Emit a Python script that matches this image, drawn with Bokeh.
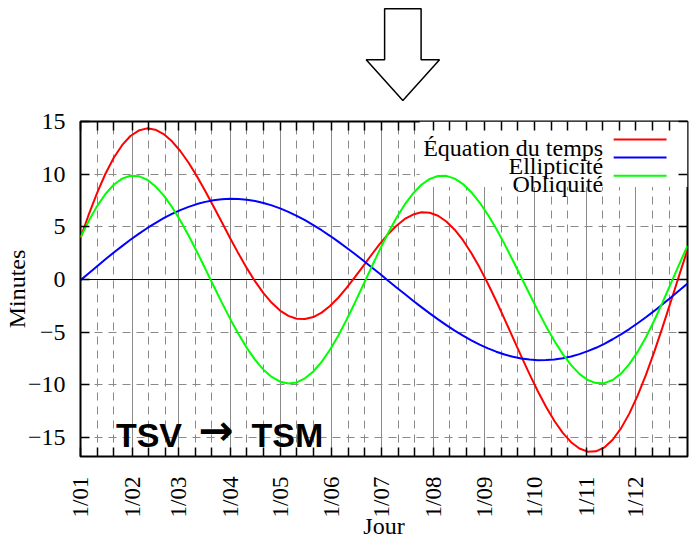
import math
from bokeh.plotting import figure
from bokeh.models import Range1d, FixedTicker, LinearAxis, Grid, Span
from bokeh.layouts import column
from bokeh.embed import file_html
from bokeh.resources import INLINE
from bokeh.core.properties import value

# ---------------- data ----------------
days = [0, 5, 10, 15, 20, 25, 30, 35, 40, 45, 50, 55, 60, 65, 70, 75, 80, 85, 90, 95,
        100, 105, 110, 115, 120, 125, 130, 135, 140, 145, 150, 155, 160, 165, 170, 175,
        180, 185, 190, 195, 200, 205, 210, 215, 220, 225, 230, 235, 240, 245, 250, 255,
        260, 265, 270, 275, 280, 285, 290, 295, 300, 305, 310, 315, 320, 325, 330, 335,
        340, 345, 350, 355, 360, 365]

equation = [3.93, 6.18, 8.23, 10.04, 11.56, 12.75, 13.62, 14.14, 14.35, 14.22, 13.81, 13.12,
            12.20, 11.08, 9.80, 8.41, 6.93, 5.43, 3.92, 2.46, 1.08, -0.18, -1.29, -2.21,
            -2.95, -3.45, -3.72, -3.75, -3.56, -3.14, -2.52, -1.73, -0.80, 0.22, 1.28, 2.35,
            3.38, 4.31, 5.11, 5.75, 6.17, 6.38, 6.34, 6.05, 5.51, 4.73, 3.73, 2.52,
            1.13, -0.40, -2.04, -3.76, -5.52, -7.27, -8.98, -10.61, -12.10, -13.43, -14.56, -15.44,
            -16.04, -16.34, -16.31, -15.94, -15.21, -14.13, -12.73, -11.02, -9.06, -6.87, -4.52, -2.08,
            0.39, 2.83]

ellipticite = [-0.07, 0.60, 1.26, 1.92, 2.56, 3.17, 3.77, 4.33, 4.87, 5.36, 5.82, 6.23,
               6.59, 6.90, 7.16, 7.37, 7.52, 7.62, 7.66, 7.64, 7.57, 7.45, 7.27, 7.04,
               6.75, 6.42, 6.05, 5.63, 5.17, 4.68, 4.15, 3.60, 3.02, 2.42, 1.80, 1.17,
               0.54, -0.11, -0.75, -1.38, -2.01, -2.62, -3.21, -3.78, -4.33, -4.85, -5.33, -5.77,
               -6.18, -6.54, -6.85, -7.12, -7.33, -7.49, -7.60, -7.66, -7.65, -7.59, -7.48, -7.31,
               -7.08, -6.80, -6.48, -6.10, -5.67, -5.20, -4.70, -4.15, -3.58, -2.98, -2.35, -1.71,
               -1.05, -0.38]

obliquite = [4.00, 5.58, 6.97, 8.12, 9.00, 9.58, 9.85, 9.81, 9.48, 8.86, 7.99, 6.89,
             5.61, 4.18, 2.64, 1.04, -0.59, -2.19, -3.74, -5.18, -6.49, -7.63, -8.56, -9.25,
             -9.70, -9.87, -9.77, -9.38, -8.73, -7.82, -6.67, -5.33, -3.82, -2.20, -0.52, 1.18,
             2.84, 4.42, 5.86, 7.13, 8.18, 9.00, 9.55, 9.83, 9.84, 9.58, 9.06, 8.29,
             7.31, 6.14, 4.81, 3.36, 1.81, 0.22, -1.38, -2.95, -4.45, -5.84, -7.08, -8.13,
             -8.96, -9.54, -9.83, -9.84, -9.54, -8.93, -8.03, -6.87, -5.48, -3.89, -2.17, -0.37,
             1.44, 3.21]

series_names = ["Équation du temps", "Ellipticité", "Obliquité"]
series_colors = ["#ff0000", "#0000ff", "#00ff00"]

month_days = [0, 31, 59, 90, 120, 151, 181, 212, 243, 273, 304, 334]
month_labels = ["1/01", "1/02", "1/03", "1/04", "1/05", "1/06",
                "1/07", "1/08", "1/09", "1/10", "1/11", "1/12"]
minor_days = [10, 20, 41, 51, 69, 79, 100, 110, 130, 140, 161, 171,
              191, 201, 222, 232, 253, 263, 283, 293, 314, 324, 344, 354]
y_ticks = [-15, -10, -5, 0, 5, 10, 15]
y_labels = ["\u221215", "\u221210", "\u22125", "0", "5", "10", "15"]

# ---------------- layout constants ----------------
SERIF = "Liberation Serif"
W = 692
TOP_H = 104
MAIN_H = 438
GRID_COLOR = "#8a8a8a"

# ---------------- top arrow ----------------
arrow = figure(width=W, height=TOP_H, x_range=Range1d(0, W), y_range=Range1d(TOP_H, 0),
               output_backend="svg", toolbar_location=None,
               x_axis_type=None, y_axis_type=None, min_border=0)
arrow.outline_line_color = None
arrow.background_fill_color = "white"
arrow.border_fill_color = "white"
arrow_x = [346.7, 388.3, 388.3, 409.3, 367.5, 325.7, 346.7]
arrow_y = [8.3, 8.3, 59.3, 59.3, 100, 59.3, 59.3]
arrow.patch(arrow_x, arrow_y, fill_color="white", line_color="black", line_width=1.5)

# ---------------- main chart ----------------
p = figure(width=W, height=MAIN_H, x_range=Range1d(0, 365), y_range=Range1d(-16.8, 15),
           output_backend="svg", toolbar_location=None,
           x_axis_type=None, y_axis_type=None,
           min_border_left=79, min_border_right=5, min_border_top=17, min_border_bottom=83)
p.outline_line_color = "black"
p.outline_line_width = 2
p.background_fill_color = "white"
p.border_fill_color = "white"


def style_axis(ax, tick_font="24px"):
    ax.axis_line_color = None
    ax.major_tick_in = 9
    ax.major_tick_out = 0
    ax.minor_tick_in = 9
    ax.minor_tick_out = 0
    ax.major_tick_line_color = "black"
    ax.minor_tick_line_color = "black"
    ax.major_tick_line_width = 1.5
    ax.minor_tick_line_width = 1.5
    ax.major_label_text_font = SERIF
    ax.major_label_text_font_size = tick_font
    ax.major_label_text_color = "black"
    ax.axis_label_text_font = SERIF
    ax.axis_label_text_font_size = "24px"
    ax.axis_label_text_font_style = "normal"
    ax.axis_label_text_color = "black"


# labelled axes
xb = LinearAxis(ticker=FixedTicker(ticks=month_days, minor_ticks=minor_days),
                major_label_overrides=dict(zip(month_days, month_labels)),
                major_label_orientation=math.pi / 2, major_label_standoff=20,
                axis_label="Jour", axis_label_standoff=-7)
style_axis(xb, "23px")
yl = LinearAxis(ticker=FixedTicker(ticks=y_ticks, minor_ticks=[]),
                major_label_overrides=dict(zip(y_ticks, y_labels)),
                major_label_standoff=15, axis_label="Minutes", axis_label_standoff=-5)
style_axis(yl)
# mirror axes: tick marks only (all as minor ticks, so no labels)
xt = LinearAxis(ticker=FixedTicker(ticks=[], minor_ticks=month_days + minor_days),
                major_label_standoff=0)
style_axis(xt)
yr = LinearAxis(ticker=FixedTicker(ticks=[], minor_ticks=y_ticks), major_label_standoff=0)
style_axis(yr)
p.add_layout(xb, "below")
p.add_layout(xt, "above")
p.add_layout(yl, "left")
p.add_layout(yr, "right")

# grid lines
p.add_layout(Grid(dimension=0, ticker=FixedTicker(ticks=month_days),
                  grid_line_color=GRID_COLOR, grid_line_width=1))
p.add_layout(Grid(dimension=0, ticker=FixedTicker(ticks=minor_days),
                  grid_line_color=GRID_COLOR, grid_line_width=1, grid_line_dash="8 6"))
p.add_layout(Grid(dimension=1, ticker=FixedTicker(ticks=[t for t in y_ticks if t != 0]),
                  grid_line_color=GRID_COLOR, grid_line_width=1, grid_line_dash="8 6"))
p.add_layout(Span(location=0, dimension="width", line_color="black", line_width=1,
                  level="underlay"))

# opaque key background
p.quad(left=[204], right=[365], bottom=[8.79], top=[15], fill_color="white", line_color=None)

# curves
for vals, color in zip([equation, ellipticite, obliquite], series_colors):
    p.line(days, vals, line_color=color, line_width=2)

# key
key_text_x = 314.3
key_text_y = [12.46, 10.77, 9.07]
key_line_y = [13.28, 11.59, 9.86]
p.text(x=[key_text_x] * 3, y=key_text_y, text=series_names, text_align="right",
       text_baseline="alphabetic", text_font=value(SERIF), text_font_size="24px",
       text_color="black")
p.segment(x0=[320.6] * 3, x1=[352.4] * 3, y0=key_line_y, y1=key_line_y,
          line_color=series_colors, line_width=2)

# TSV -> TSM
p.text(x=[21.3], y=[-14.79], text=["TSV"], text_font=value("Liberation Sans"),
       text_font_style="bold", text_font_size="34px", text_baseline="alphabetic",
       text_align="left", text_color="black")
p.text(x=[81.6], y=[-14.3], text=["\u2192"], text_font=value("DejaVu Sans"),
       text_font_style="bold", text_font_size="42px", text_baseline="alphabetic",
       text_align="center", text_color="black")
p.text(x=[102.8], y=[-14.79], text=["TSM"], text_font=value("Liberation Sans"),
       text_font_style="bold", text_font_size="34px", text_baseline="alphabetic",
       text_align="left", text_color="black")

layout = column(arrow, p)
open("out.html", "w").write(file_html(layout, INLINE))
